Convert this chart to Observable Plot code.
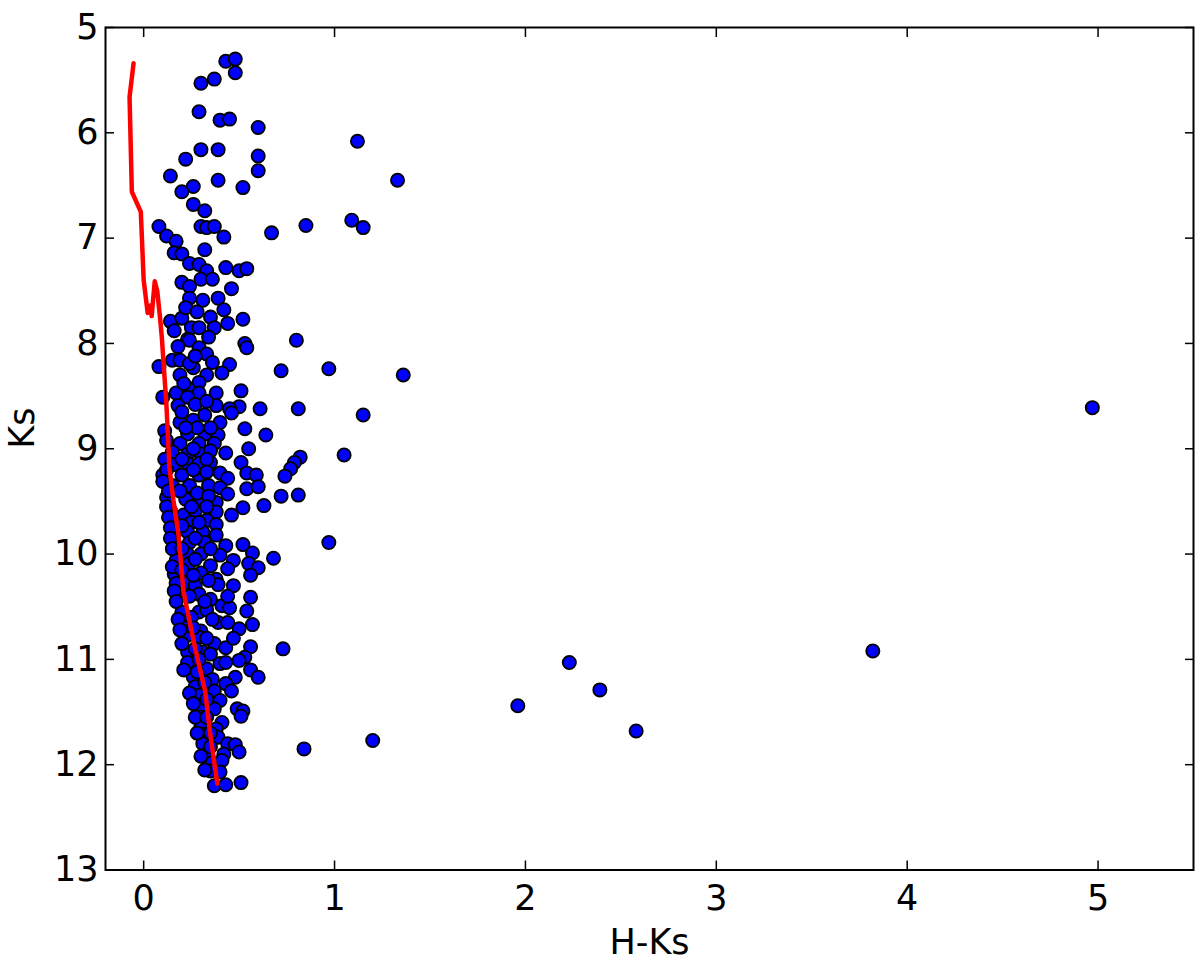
<!DOCTYPE html>
<html>
<head>
<meta charset="utf-8">
<script src="https://cdn.jsdelivr.net/npm/d3@7"></script>
<script src="https://cdn.jsdelivr.net/npm/@observablehq/plot@0.6"></script>
<style>
  html, body { margin: 0; padding: 0; background: #fff; }
  #chart { width: 1200px; height: 964px; }
</style>
</head>
<body>
<div id="chart"></div>
<script>
// Cluster members: [H-Ks, Ks]
const clusterStars = [
  [0.43,5.32],[0.48,5.30],[0.48,5.43],[0.30,5.53],[0.37,5.49],[0.29,5.80],[0.40,5.88],[0.45,5.87],[0.60,5.95],[0.30,6.16],[0.39,6.16],[0.22,6.25],[0.60,6.22],[0.60,6.36],[0.14,6.41],[0.26,6.51],[0.39,6.45],[0.52,6.52],[0.20,6.56],[0.26,6.68],[0.32,6.74],[0.08,6.89],[0.30,6.89],[0.33,6.90],[0.37,6.89],[0.67,6.95],
  [0.12,6.98],[0.17,7.03],[0.42,6.99],[0.16,7.14],[0.20,7.15],[0.32,7.11],[0.24,7.24],[0.29,7.25],[0.33,7.31],[0.43,7.28],[0.50,7.31],[0.54,7.29],[0.20,7.42],[0.24,7.46],[0.30,7.39],[0.36,7.39],[0.46,7.48],[0.24,7.57],[0.31,7.59],[0.39,7.57],[0.42,7.68],[0.35,7.75],[0.14,7.79],[0.20,7.76],[0.25,7.85],[0.29,7.85],[0.37,7.85],[0.44,7.81],[0.52,7.77],[0.16,7.88],[0.34,7.94],[0.23,7.96],[0.24,7.97],[0.18,8.03],[0.29,8.04],[0.33,8.10],[0.53,8.00],[0.54,8.04],[0.08,8.22],[0.15,8.16],[0.19,8.16],[0.26,8.23],[0.24,8.19],[0.45,8.20],[0.41,8.28],[0.33,8.30],[0.19,8.30],[0.29,8.37],[0.23,8.42],[0.51,8.45],[0.38,8.47],[0.29,8.47],[0.17,8.47],[0.10,8.51],[0.23,8.51],[0.18,8.59],[0.27,8.58],[0.38,8.59],[0.50,8.60],[0.45,8.62],
  [0.46,8.66],[0.19,8.75],[0.26,8.73],[0.32,8.68],[0.40,8.75],[0.11,8.83],[0.23,8.86],[0.32,8.86],[0.39,8.87],[0.53,8.81],[0.19,8.95],[0.29,8.95],[0.37,8.95],[0.55,9.00],[0.15,9.03],[0.23,9.05],[0.30,9.05],[0.35,9.02],[0.43,9.04],[0.16,9.15],[0.23,9.14],[0.29,9.14],[0.35,9.13],[0.51,9.13],[0.10,9.25],[0.20,9.25],[0.29,9.25],[0.40,9.23],[0.44,9.28],[0.54,9.23],[0.59,9.25],[0.15,9.35],[0.24,9.35],[0.34,9.35],[0.40,9.37],[0.54,9.38],[0.60,9.36],[0.44,9.43],[0.12,9.46],[0.22,9.48],[0.29,9.51],[0.38,9.51],[0.52,9.56],[0.14,9.59],[0.21,9.63],[0.27,9.59],[0.38,9.60],[0.46,9.63],[0.16,9.70],[0.25,9.70],[0.33,9.68],[0.38,9.72],[0.16,9.81],[0.23,9.79],[0.31,9.79],[0.38,9.82],[0.24,9.89],[0.32,9.89],[0.16,9.90],[0.43,9.92],[0.52,9.91],[0.57,9.99],[0.23,10.00],[0.30,10.00],[0.40,10.01],[0.47,10.06],[0.55,10.09],[0.60,10.13],[0.17,10.06],[0.24,10.09],[0.35,10.11],[0.44,10.14],[0.56,10.20],[0.16,10.19],[0.30,10.18],[0.38,10.24],[0.47,10.30],[0.23,10.27],
  [0.17,10.28],[0.27,10.30],[0.39,10.29],[0.56,10.41],[0.19,10.39],[0.29,10.38],[0.35,10.43],[0.41,10.49],[0.45,10.51],[0.54,10.54],[0.20,10.55],[0.29,10.55],[0.33,10.53],[0.21,10.66],[0.30,10.73],[0.39,10.65],[0.44,10.65],[0.50,10.71],[0.57,10.67],[0.23,10.77],[0.29,10.79],[0.37,10.85],[0.43,10.89],[0.56,10.88],[0.23,10.93],[0.31,10.93],[0.53,10.98],[0.50,11.01],[0.23,11.03],[0.33,11.09],[0.40,11.04],[0.43,11.03],[0.56,11.10],[0.48,11.17],[0.26,11.17],[0.36,11.19],[0.43,11.23],[0.27,11.26],[0.37,11.30],[0.29,11.34],[0.40,11.39],[0.49,11.47],[0.52,11.49],[0.51,11.54],[0.30,11.45],[0.37,11.47],[0.30,11.55],[0.41,11.60],[0.30,11.64],[0.38,11.66],[0.31,11.71],[0.39,11.74],[0.31,11.80],[0.44,11.80],[0.48,11.81],[0.50,11.88],[0.33,11.90],[0.42,11.90],[0.36,11.98],[0.41,11.96],[0.35,12.06],[0.40,12.07],[0.37,12.20],[0.43,12.19]
];

// Overlapping stars in the dense core of the sequence: [H-Ks, Ks]
const coreStars = [
  [0.12,8.92],[0.11,9.10],[0.12,9.20],[0.10,9.31],[0.13,9.40],[0.12,9.55],[0.13,9.65],[0.14,9.75],[0.14,9.85],[0.15,9.95],[0.15,10.12],[0.16,10.35],[0.17,10.45],[0.18,10.62],[0.19,10.72],[0.20,10.85],[0.21,11.10],[0.24,11.32],[0.26,11.42],[0.27,11.55],[0.28,11.70],[0.30,11.92],[0.32,12.05],
  [0.20,8.65],[0.28,8.80],[0.35,8.80],[0.26,9.00],[0.33,9.10],[0.20,9.10],[0.26,9.20],[0.33,9.22],[0.19,9.40],[0.28,9.42],[0.34,9.45],[0.25,9.55],[0.33,9.55],[0.20,9.73],[0.29,9.70],[0.27,9.85],[0.35,9.95],[0.20,9.95],[0.27,10.05],[0.34,10.25],[0.20,10.15],[0.26,10.20],[0.24,10.40],[0.32,10.45],[0.25,10.60],[0.36,10.62],[0.26,10.70],[0.33,10.80],[0.27,10.90],[0.35,10.95],[0.29,11.00],[0.28,11.12],[0.32,11.22],[0.33,11.38],[0.33,11.55],[0.35,11.70],[0.35,11.83],[0.44,10.40],[0.47,10.80],[0.46,11.30],
  [0.21,8.38],[0.27,8.12],[0.36,8.18],[0.22,7.66],[0.28,7.70],[0.33,8.55],[0.22,8.80]
];

// Redder / scattered stars: [H-Ks, Ks]
const outlierStars = [
  [1.12,6.08],[1.33,6.45],[0.85,6.88],[1.09,6.83],[1.15,6.90],[0.80,7.97],[0.72,8.26],[0.97,8.24],[1.36,8.30],[1.15,8.68],[0.81,8.62],[0.61,8.62],[4.97,8.61],[0.64,8.87],[1.05,9.06],
  [0.82,9.08],[0.79,9.13],[0.77,9.19],[0.74,9.26],[0.81,9.44],[0.72,9.45],[0.63,9.54],[0.97,9.89],[0.68,10.04],[0.73,10.90],[0.60,11.17],
  [1.96,11.44],[2.23,11.03],[2.39,11.29],[2.58,11.68],[3.82,10.92],[0.84,11.85],[1.20,11.77],[0.51,12.17]
];

// Isochrone (red curve): [H-Ks, Ks]
const isochrone = [
  [-0.053,5.34],[-0.074,5.66],[-0.062,6.56],[-0.015,6.75],[0.000,7.40],[0.021,7.71],[0.034,7.64],[0.042,7.74],[0.058,7.41],[0.071,7.50],[0.086,7.76],[0.095,7.94],[0.113,8.42],[0.118,8.54],[0.135,9.18],[0.156,9.49],[0.182,9.81],[0.208,10.35],[0.269,10.89],[0.322,11.30],[0.348,11.70],[0.386,12.18]
];

const xTicks = [0, 1, 2, 3, 4, 5];
const yTicks = [5, 6, 7, 8, 9, 10, 11, 12, 13];
const xDomain = [-0.2, 5.5];
const yDomain = [5, 13];
const xLabel = "H-Ks";
const yLabel = "Ks";

const stars = clusterStars.concat(coreStars, outlierStars).map(([hk, ks]) => ({hk, ks}));
const iso = isochrone.map(([hk, ks]) => ({hk, ks}));

const FS = 35;
const TICK = 9;
const fmt = d => String(d);

const chart = Plot.plot({
  width: 1200,
  height: 964,
  marginTop: 27,
  marginRight: 7,
  marginBottom: 94.5,
  marginLeft: 105,
  style: {fontFamily: "DejaVu Sans, sans-serif", fontSize: FS + "px", color: "black", background: "white"},
  x: {domain: xDomain},
  y: {domain: yDomain, reverse: true},
  marks: [
    Plot.dot(stars, {x: "hk", y: "ks", r: 6.6, fill: "#0000ff", stroke: "black", strokeWidth: 1.8}),
    Plot.line(iso, {x: "hk", y: "ks", stroke: "#ff0000", strokeWidth: 4.5, curve: "linear"}),
    // tick labels
    Plot.axisX(xTicks, {anchor: "bottom", tickSize: 0, tickPadding: 15, fontSize: FS, tickFormat: fmt, label: null}),
    Plot.axisY(yTicks, {anchor: "left", tickSize: 0, tickPadding: 7, fontSize: FS, tickFormat: fmt, label: null}),
    // inward ticks on all four sides
    Plot.axisX(xTicks, {anchor: "bottom", tickSize: TICK, dy: -TICK, tickFormat: () => "", label: null, strokeWidth: 1.5}),
    Plot.axisX(xTicks, {anchor: "top", tickSize: TICK, dy: TICK, tickFormat: () => "", label: null, strokeWidth: 1.5}),
    Plot.axisY(yTicks, {anchor: "left", tickSize: TICK, dx: TICK, tickFormat: () => "", label: null, strokeWidth: 1.5}),
    Plot.axisY(yTicks, {anchor: "right", tickSize: TICK, dx: -TICK, tickFormat: () => "", label: null, strokeWidth: 1.5}),
    Plot.frame({stroke: "black", strokeWidth: 2}),
    // axis titles
    Plot.text([xLabel], {frameAnchor: "bottom", dy: 84, fontSize: FS, text: d => d}),
    Plot.text([yLabel], {frameAnchor: "left", dx: -83, rotate: -90, fontSize: FS, text: d => d})
  ]
});

document.getElementById("chart").appendChild(chart);
</script>
</body>
</html>
